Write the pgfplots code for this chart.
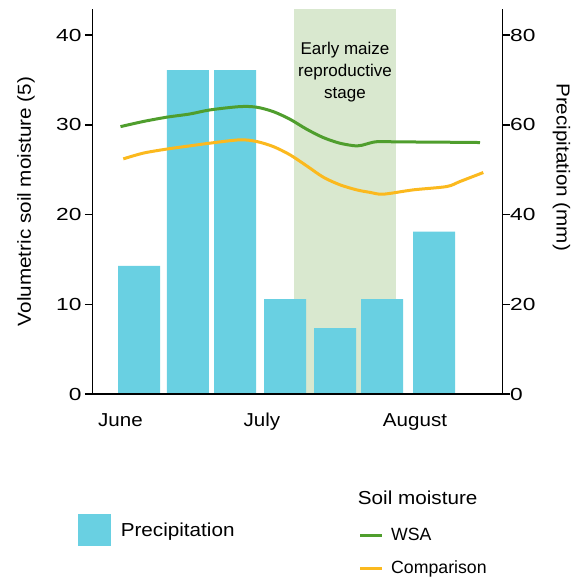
\documentclass[border=0pt]{standalone}
\usepackage{fontspec}
\setmainfont{Liberation Sans}
\newfontfamily\wideA[FakeStretch=1.3]{Liberation Sans}
\newfontfamily\wideB[FakeStretch=1.1]{Liberation Sans}
\usepackage{pgfplots}
\pgfplotsset{compat=1.18}
\definecolor{barblue}{HTML}{69D0E2}
\definecolor{shadegreen}{HTML}{D9E8CF}
\definecolor{wsagreen}{HTML}{4F9E2D}
\definecolor{comporange}{HTML}{FBB91E}
\begin{document}
\begin{tikzpicture}[x=1pt,y=1pt]
\useasboundingbox (0,0) rectangle (584,576);
\pgfplotsset{common/.style={
  width=410pt,height=384.8pt,scale only axis,
  at={(92.5pt,181.7pt)},anchor=south west,
  xmin=92.5,xmax=502.5,
  axis line style={line width=1.6pt,black},
  major tick style={line width=1.6pt,black},
  major tick length=7.5pt, tick align=outside,
  /pgf/number format/assume math mode=true,
  clip=false}}
% Right axis: precipitation bars
\begin{axis}[common, ymin=0, ymax=85.68,
  axis y line*=right, axis x line=none,
  ytick={0,20,40,60,80},
  yticklabel style={font=\fontsize{17.5}{20}\wideA, anchor=west, inner sep=0pt},
  ylabel={Precipitation (mm)},
  ylabel style={font=\fontsize{18.8}{22}\wideB, rotate=180, anchor=center,
    at={(axis description cs:1.1439,0.5902)}}]
\fill[shadegreen] (axis cs:294,0) rectangle (axis cs:395.7,85.68);
\addplot[ybar, bar width=42, fill=barblue, draw=none] coordinates {
  (139.2,28.57) (187.8,72.2) (235,72.2) (285,21.2) (335,14.76) (382,21.2) (434,36.2)};
\end{axis}
% Left axis: soil moisture lines
\begin{axis}[common, ymin=0, ymax=42.84,
  axis y line*=left, axis x line*=bottom,
  ytick={0,10,20,30,40},
  yticklabel style={font=\fontsize{17.5}{20}\wideA, anchor=east, inner sep=0pt, xshift=-3.3pt},
  xtick={120.5,262,415}, xticklabels={June,July,August},
  xtick style={draw=none},
  xticklabel style={font=\fontsize{18.7}{22}\wideB, anchor=base, inner sep=0pt, yshift=-24.9pt},
  ylabel={Volumetric soil moisture (5)},
  ylabel style={font=\fontsize{18.8}{22}\wideB, anchor=center,
    at={(axis description cs:-0.162,0.5013)}}]
\addplot[wsagreen, line width=3pt, smooth] coordinates {
  (120.5,29.80) (143.3,30.37) (166.7,30.85) (190,31.21) (210,31.66) (240,32.03)
  (256.7,31.96) (273.3,31.47) (290,30.62) (306.7,29.51) (323.3,28.58) (340,27.95)
  (356.7,27.65) (366,27.85) (376.7,28.12) (400,28.1) (440,28.07) (480,28.03)};
\addplot[comporange, line width=3pt, smooth] coordinates {
  (123.3,26.21) (143.3,26.85) (166.7,27.3) (190,27.66) (210,27.96) (240,28.33)
  (256.7,28.14) (273.3,27.58) (290,26.66) (306.7,25.43) (323.3,24.17) (340,23.32)
  (356.7,22.76) (370,22.48) (383.3,22.28) (413.3,22.76) (446.7,23.13) (460,23.69)
  (483.3,24.69)};
\end{axis}
% stage annotation
\begin{scope}[every node/.style={anchor=base, inner sep=0pt, font=\fontsize{17}{20}\selectfont}]
\node at (345,521) {Early maize};
\node at (345,499) {reproductive};
\node at (345,477) {stage};
\end{scope}
% legends
\fill[barblue] (78.3,30.3) rectangle (110.5,62);
\node[anchor=base west, inner sep=0pt, font=\fontsize{18.8}{22}\wideB] at (120.6,39) {Precipitation};
\node[anchor=base west, inner sep=0pt, font=\fontsize{18.8}{22}\wideB] at (357.7,71.5) {Soil moisture};
\draw[wsagreen, line width=3pt] (360,40.3) -- (382,40.3);
\node[anchor=base west, inner sep=0pt, font=\fontsize{17.7}{20}\selectfont] at (391,35) {WSA};
\draw[comporange, line width=3pt] (360,8) -- (382,8);
\node[anchor=base west, inner sep=0pt, font=\fontsize{17.7}{20}\selectfont] at (391,2.3) {Comparison};
\end{tikzpicture}
\end{document}
